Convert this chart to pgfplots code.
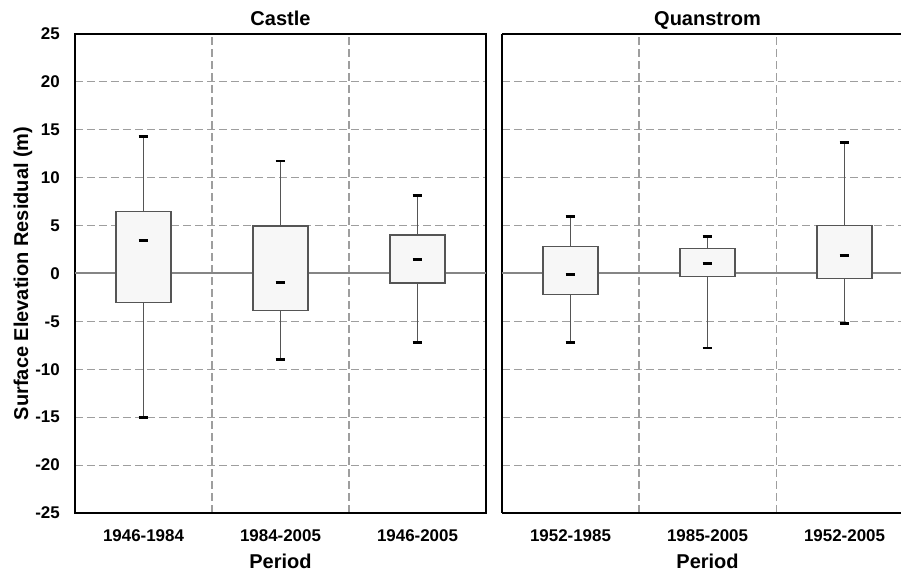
\documentclass[border=0pt]{standalone}
\usepackage{pgfplots}
\pgfplotsset{compat=1.18}
\usepgfplotslibrary{statistics}
\usepackage{fontspec}
\setmainfont{Liberation Sans}
\definecolor{boxedge}{HTML}{555555}
\definecolor{boxfill}{HTML}{F7F7F7}
\definecolor{gridgray}{HTML}{9E9E9E}
\definecolor{zerogray}{HTML}{858585}
\begin{document}
\begin{tikzpicture}[font=\bfseries]
\pgfplotsset{
  myaxis/.style={
    scale only axis,
    height=359.5pt,
    ymin=-25, ymax=25,
    ytick={-25,-20,...,25},
    xmin=-0.5,
    xtick={0,1,2},
    minor xtick={0.5,1.5},
    xminorgrids=true,
    ymajorgrids=true,
    major tick length=0pt,
    minor tick length=0pt,
    /pgf/number format/assume math mode=true,
    grid style={gridgray, dash pattern=on 6pt off 3pt, line width=0.8pt},
    minor grid style={gridgray, dash pattern=on 6pt off 3pt, line width=0.8pt},
    axis line style={black, line width=1.6pt},
    tick label style={font=\fontsize{12.7}{14}\selectfont\bfseries},
    title style={font=\fontsize{15}{17}\selectfont\bfseries, anchor=base, yshift=0pt},
    xticklabel style={inner sep=0pt, anchor=north, yshift=-12pt},
    yticklabel style={inner sep=0pt, anchor=east, xshift=-11.25pt},
    xlabel={Period},
    extra y ticks={0},
    extra y tick labels={},
    extra y tick style={ymajorgrids=true, major grid style={solid, zerogray, line width=1.5pt}},
    boxplot/draw direction=y,
    boxplot/box extend=0.4,
    boxplot/every box/.style={fill=boxfill, draw=boxedge, line width=1pt},
    boxplot/draw/median/.code={%
      \draw[black, line width=2.2pt]
        (boxplot box cs:\pgfplotsboxplotvalue{median},0.41) --
        (boxplot box cs:\pgfplotsboxplotvalue{median},0.59);
    },
    boxplot/draw/lower whisker/.code={%
      \draw[boxedge, line width=0.9pt]
        (boxplot box cs:\pgfplotsboxplotvalue{lower quartile},0.5) --
        (boxplot box cs:\pgfplotsboxplotvalue{lower whisker},0.5);
      \draw[black, line width=2.2pt]
        (boxplot box cs:\pgfplotsboxplotvalue{lower whisker},0.41) --
        (boxplot box cs:\pgfplotsboxplotvalue{lower whisker},0.59);
    },
    boxplot/draw/upper whisker/.code={%
      \draw[boxedge, line width=0.9pt]
        (boxplot box cs:\pgfplotsboxplotvalue{upper quartile},0.5) --
        (boxplot box cs:\pgfplotsboxplotvalue{upper whisker},0.5);
      \draw[black, line width=2.2pt]
        (boxplot box cs:\pgfplotsboxplotvalue{upper whisker},0.41) --
        (boxplot box cs:\pgfplotsboxplotvalue{upper whisker},0.59);
    },
  }
}
\begin{axis}[myaxis,
  name=L, at={(0,0)}, anchor=south west,
  width=308.25pt, xmax=2.5,
  title={Castle},
  title style={at={(axis description cs:0.5,1)}, anchor=base, yshift=0pt},
  xticklabels={1946-1984,1984-2005,1946-2005},
  xlabel style={at={(axis description cs:0.5,0)}, anchor=north, inner sep=0pt, yshift=-30.5pt, font=\fontsize{15}{17}\selectfont\bfseries},
  ylabel={Surface Elevation Residual (m)},
  ylabel style={at={(axis description cs:-0.1265,0.5)}, anchor=center, font=\fontsize{15}{17}\selectfont\bfseries},
]
\addplot[boxedge, boxplot prepared={draw position=0, median=3.44, upper quartile=6.47, lower quartile=-3.02, upper whisker=14.3, lower whisker=-15.0}] coordinates {};
\addplot[boxedge, boxplot prepared={draw position=1, median=-1.0, upper quartile=4.94, lower quartile=-3.89, upper whisker=11.72, lower whisker=-9.0}] coordinates {};
\addplot[boxedge, boxplot prepared={draw position=2, median=1.40, upper quartile=4.0, lower quartile=-1.0, upper whisker=8.14, lower whisker=-7.26}] coordinates {};
\end{axis}
\begin{axis}[myaxis,
  at={(320.25pt,0)}, anchor=south west,
  width=299.25pt, xmax=2.412,
  axis x line=box, axis y line=left,
  axis line style={-, black, line width=1.6pt},
  title={Quanstrom},
  title style={at={(axis description cs:0.5151,1)}, anchor=base, yshift=0pt},
  xticklabels={1952-1985,1985-2005,1952-2005},
  xlabel style={at={(axis description cs:0.5151,0)}, anchor=north, inner sep=0pt, yshift=-30.5pt, font=\fontsize{15}{17}\selectfont\bfseries},
  yticklabels={},
]
\addplot[boxedge, boxplot prepared={draw position=0, median=-0.13, upper quartile=2.82, lower quartile=-2.19, upper whisker=5.88, lower whisker=-7.2}] coordinates {};
\addplot[boxedge, boxplot prepared={draw position=1, median=1.04, upper quartile=2.61, lower quartile=-0.34, upper whisker=3.8, lower whisker=-7.79}] coordinates {};
\addplot[boxedge, boxplot prepared={draw position=2, median=1.85, upper quartile=5.0, lower quartile=-0.55, upper whisker=13.63, lower whisker=-5.25}] coordinates {};
\end{axis}
\pgfresetboundingbox
\path (-56.25pt,-43.5pt) rectangle (619.5pt,384.75pt);
\end{tikzpicture}
\end{document}
